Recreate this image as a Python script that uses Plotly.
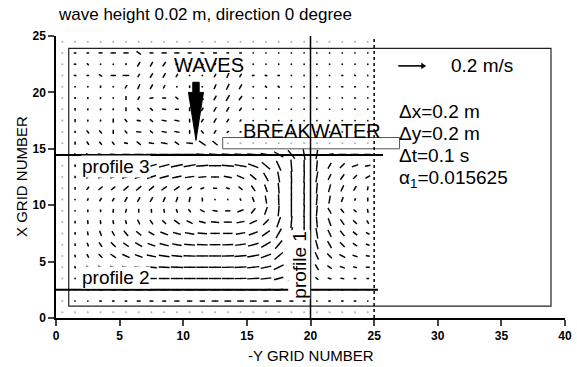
import numpy as np
import plotly.graph_objects as go

# ---------------- data ----------------
GRID_X = [0.5, 1.5, 2.5, 3.5, 4.5, 5.5, 6.5, 7.5, 8.5, 9.5, 10.5, 11.5, 12.5,
          13.5, 14.5, 15.5, 16.5, 17.5, 18.5, 19.5, 20.5, 21.5, 22.5, 23.5, 24.5]
# rows from top (24.5) to bottom (0.5)
GRID_Y = [24.5, 23.5, 22.5, 21.5, 20.5, 19.5, 18.5, 17.5, 16.5, 15.5, 14.5, 13.5,
          12.5, 11.5, 10.5, 9.5, 8.5, 7.5, 6.5, 5.5, 4.5, 3.5, 2.5, 1.5, 0.5]

# current speed in cm/s, one row per GRID_Y entry
SPEED = [
    [0]*25,
    [0,2,2,3,4,4,4,3,4,4,3,3,3,2,2,1,1,1,1,1,1,1,1,1,1],
    [0,2,2,1,1,1.5,4,4,4,2,2,2,2,2,1,1,1,1,1,1,1,1,1,1,1],
    [0,2,2,3,4,5,3,4,4,3,1,1,3,4,3,2,2,2,1,1,1,1,1.5,1.5,1],
    [0,1,1,2,1,3,4,4,3,1,2,1,4,5,4,1,2,2,1,1,1,1,1.5,1.5,1],
    [0,1.5,1.5,1.5,1,3,3,3,3,3,2,3,4,5,4,1,1.5,1,1,1,1,1,1,1.5,1],
    [0,2,1.5,1.5,1.5,3,3,3,3,3,3,3,4,4,3,1,1,1,1,1,1,1,1,1,1],
    [0,2.5,1.5,1.5,3,3,3,3,4,4,3,3,4,3,2,1,1,1,1,1,1,1,1,1,1],
    [0,1.5,3,3,3,3,4,3,4,4,3,3,3,2,1.5,1,1,1,1,1,1,1,1,1,1],
    [0,2.5,3,3,3,3,4,4,5,4,5,6,5,0,0,0,0,0,0,0,0,0,0,0,0],
    [0,2,3,4,5,6,7,8,8,9,9,9,9,9,9,9,8,8,8,8,7,6,6,6,5],
    [0,2,3,4,5,6,7,8,8,9,9,9,9,9,9,8,8,8,9,9,8,5,5,5,4],
    [0,2,3,4,5,6,6,7,7,7,7,6,6,6,6,6,7,8,9,9,8,5,5,4,4],
    [0,2,3,4,4,5,5,5,5,5,4,3,3,3,4,5,6,8,9,9,8,6,5,4,3],
    [0,1,2,3,3,4,4,4,4,4,4,3,1,1,2,4,6,8,9,9,8,6,4,2,3],
    [0,1,2,2,3,3,3,3,3,3,3,4,4,4,5,5,6,8,9,9,8,5,4,3,3],
    [0,2,3,3,3,3,4,4,4,5,5,5,6,6,6,6,6,8,9,9,8,6,5,4,3],
    [0,2,3,4,4,5,5,5,6,6,7,7,7,7,7,7,7,8,9,9,8,6,5,4,3],
    [0,2,3,4,5,5,6,6,7,7,8,8,8,8,8,8,8,8,9,8,7,6,5,4,3],
    [0,2,3,4,5,6,6,7,8,8,9,9,9,9,9,9,8,8,8,7,6,5,5,4,3],
    [0,2,3,4,5,6,7,8,8,9,9,9,9,9,9,9,8,8,7,6,5,4,4,3,3],
    [0,1,3,4,5,6,7,8,8,9,9,9,9,9,9,9,8,7,6,4,3,3,3,2,2],
    [0,1,2,3,4,5,6,6,7,7,7,7,7,7,7,7,7,6,5,3,2,2,2,2,2],
    [0,1,1,2,2,2,3,3,3,4,4,4,5,5,5,5,4,4,3,2,1,2,2,2,1],
    [0]*25,
]

# current direction in degrees (0 = +x, 90 = +y)
DIRECTION = [
    [0]*25,
    [0,0,0,0,0,0,-35,0,0,0,0,-10,0,0,0,0,0,0,0,0,0,0,0,0,0],
    [0,0,-45,0,-45,80,60,60,55,0,-45,-30,45,50,0,0,0,0,0,0,0,0,0,0,0],
    [0,0,0,-30,0,0,60,60,60,60,0,0,60,65,60,0,-10,0,0,0,0,0,0,-30,0],
    [0,0,0,90,0,60,65,60,60,0,90,0,65,65,60,0,-40,-40,0,0,0,0,0,0,0],
    [0,90,80,80,0,90,60,10,0,-40,-90,-50,60,60,55,0,0,0,0,0,0,0,0,-20,0],
    [0,90,80,80,70,90,-50,-40,-10,0,-90,60,60,60,55,0,0,0,0,0,0,0,0,0,0],
    [0,90,80,80,90,-50,-10,-40,-10,-10,-90,55,60,55,50,0,0,0,0,0,0,0,0,0,0],
    [0,90,-50,-50,90,-50,-5,-40,-10,-10,-90,-50,55,45,30,0,0,0,0,0,0,0,0,0,0],
    [0,90,-55,-50,-50,-10,-40,-10,-10,-35,-5,-35,-40,0,0,0,0,0,0,0,0,0,0,0,0],
    [0,-60,-20,-10,-5,0,0,0,0,0,0,-5,-5,-5,-5,-5,-10,-30,-50,-80,-100,190,180,180,180],
    [0,100,60,30,20,15,15,15,15,12,10,5,0,-5,-10,-20,-40,-65,-85,-90,-95,240,225,200,190],
    [0,90,45,25,20,18,18,18,15,12,8,5,0,-10,-25,-40,-60,-80,-88,-92,-100,245,235,225,210],
    [0,90,50,40,40,40,40,40,35,35,30,20,0,-20,-40,-55,-70,-85,-90,-92,-95,255,245,240,260],
    [0,90,70,60,60,60,60,60,65,70,80,90,90,0,-60,-70,-80,-88,-90,-92,-95,260,250,250,270],
    [0,90,90,90,85,75,90,95,100,110,130,150,170,180,200,230,250,265,270,268,265,300,310,320,280],
    [0,90,95,95,100,105,115,125,135,145,155,165,175,180,190,205,225,250,265,270,275,290,305,315,300],
    [0,90,100,110,120,130,140,150,160,165,170,175,180,180,190,200,215,240,260,270,280,295,310,320,330],
    [0,95,110,125,135,145,150,160,165,170,175,178,180,182,188,195,210,230,255,270,285,300,315,325,340],
    [0,100,120,135,145,155,160,168,172,175,178,180,180,182,185,190,200,220,245,270,295,315,330,340,350],
    [0,110,135,150,160,168,172,175,177,178,180,180,180,181,183,186,192,205,230,260,300,325,340,350,0],
    [0,120,150,165,172,176,178,180,180,180,180,180,180,180,181,183,187,195,215,240,320,340,350,0,0],
    [0,150,165,172,176,178,180,180,180,180,180,180,180,180,180,181,183,188,195,210,0,0,0,0,0],
    [0,180,180,180,180,180,180,180,180,180,180,180,180,180,180,180,180,180,180,180,180,180,180,180,180],
    [0]*25,
]

REF_SPEED = 20          # cm/s  (0.2 m/s reference arrow)
X_TICKS = [0, 5, 10, 15, 20, 25, 30, 35, 40]
Y_TICKS = [0, 5, 10, 15, 20, 25]

# ---------------- layout geometry ----------------
W, H = 577, 367
ML, MR, MT, MB = 56, 12, 36, 49
XR, YR = (0, 40), (0, 25)
PXX = (W - ML - MR) / (XR[1] - XR[0])
PXY = (H - MT - MB) / (YR[1] - YR[0])
PX_PER_CMS = 27 / REF_SPEED     # pixel length per cm/s

FONT = "Liberation Sans, Arial, Helvetica, sans-serif"

gx, gy = np.meshgrid(np.array(GRID_X), np.array(GRID_Y))
sp = np.array(SPEED, dtype=float)
th = np.deg2rad(np.array(DIRECTION, dtype=float))
dx = sp * np.cos(th) * PX_PER_CMS / PXX
dy = sp * np.sin(th) * PX_PER_CMS / PXY

seg_x, seg_y = [], []
for xx, yy, ddx, ddy, s in zip(gx.ravel(), gy.ravel(), dx.ravel(), dy.ravel(), sp.ravel()):
    if s <= 0:
        continue
    seg_x += [xx - ddx / 2, xx + ddx / 2, None]
    seg_y += [yy - ddy / 2, yy + ddy / 2, None]

fig = go.Figure()
fig.add_trace(go.Scatter(x=gx.ravel(), y=gy.ravel(), mode="markers",
                         marker=dict(size=2, color="#b0b0b0"),
                         hoverinfo="skip", showlegend=False))
fig.add_trace(go.Scatter(x=seg_x, y=seg_y, mode="lines",
                         line=dict(color="black", width=1.4),
                         hoverinfo="skip", showlegend=False))

# reference arrow 0.2 m/s (same scale as the field)
REF_X0, REF_Y = 26.9, 22.35
ref_tip = REF_X0 + REF_SPEED * PX_PER_CMS / PXX
fig.add_trace(go.Scatter(x=[REF_X0, ref_tip], y=[REF_Y, REF_Y], mode="lines",
                         line=dict(color="black", width=1.6),
                         hoverinfo="skip", showlegend=False))
fig.add_trace(go.Scatter(x=[ref_tip - 2.5 / PXX], y=[REF_Y], mode="markers",
                         marker=dict(symbol="triangle-right", size=6, color="black"),
                         hoverinfo="skip", showlegend=False))

# domain box
fig.add_shape(type="rect", x0=1.0, x1=38.9, y0=1.05, y1=23.9,
              line=dict(color="#222", width=1.2))
# breakwater
fig.add_shape(type="rect", x0=13.1, x1=27.0, y0=15.0, y1=16.0,
              line=dict(color="#555", width=1))
# profile lines
fig.add_shape(type="line", x0=0, x1=25.7, y0=14.45, y1=14.45,
              line=dict(color="black", width=2))
fig.add_shape(type="line", x0=0, x1=25.3, y0=2.5, y1=2.5,
              line=dict(color="black", width=2))
fig.add_shape(type="line", x0=20, x1=20, y0=0, y1=25,
              line=dict(color="black", width=1.5))
fig.add_shape(type="line", x0=25, x1=25, y0=0, y1=25,
              line=dict(color="black", width=1.5, dash="dot"))

# big incoming-wave arrow
AX, AY_TOP, AY_BASE, AY_TIP = 11.0, 20.9, 20.0, 15.75
SHAFT_HW, HEAD_HW = 3.2 / PXX, 7.5 / PXX
path = (f"M {AX-SHAFT_HW},{AY_TOP} L {AX+SHAFT_HW},{AY_TOP} L {AX+SHAFT_HW},{AY_BASE} "
        f"L {AX+HEAD_HW},{AY_BASE} L {AX},{AY_TIP} L {AX-HEAD_HW},{AY_BASE} "
        f"L {AX-SHAFT_HW},{AY_BASE} Z")
fig.add_shape(type="path", path=path, fillcolor="black", line=dict(color="black", width=1))

BIG = dict(family=FONT, size=19, color="black")
LARGE = dict(family=FONT, size=20, color="black")
def txt(x, y, s, xanchor="left", angle=0, bg=None, font=BIG):
    fig.add_annotation(x=x, y=y, xref="x", yref="y", text=s, showarrow=False,
                       xanchor=xanchor, yanchor="middle", textangle=angle,
                       font=font, bgcolor=bg, borderpad=0)

txt(31.0, 22.35, "0.2 m/s")
txt(26.9, 18.35, "Δx=0.2 m")
txt(26.9, 16.35, "Δy=0.2 m")
txt(26.9, 14.4, "Δt=0.1 s")
txt(26.9, 12.35, "α<sub>1</sub>=0.015625")
txt(12.0, 22.45, "WAVES", xanchor="center", font=LARGE)
txt(20.1, 16.6, "BREAKWATER", xanchor="center", font=LARGE)
txt(2.0, 13.4, "profile 3", bg="white")
txt(2.0, 3.55, "profile 2", bg="white")
txt(19.15, 4.7, "profile 1", xanchor="center", angle=-90, bg="white")

# axis titles and figure title
fig.add_annotation(x=0.5, y=-(355 - (H - MB)) / (H - MT - MB), xref="paper", yref="paper",
                   text="-Y GRID NUMBER", showarrow=False, yanchor="middle",
                   font=dict(family=FONT, size=15, color="black"))
fig.add_annotation(x=-(ML - 21) / (W - ML - MR), y=0.5, xref="paper", yref="paper",
                   text="X GRID NUMBER", showarrow=False, textangle=-90, xanchor="center",
                   font=dict(family=FONT, size=15, color="black"))
fig.add_annotation(x=0, y=1 + (MT - 14) / (H - MT - MB), xref="paper", yref="paper",
                   text="wave height 0.02 m, direction 0 degree", showarrow=False,
                   xanchor="left", yanchor="middle",
                   font=dict(family=FONT, size=17, color="black"))

tickfont = dict(family=FONT, size=12, color="black", weight="bold")
fig.update_xaxes(range=list(XR), tickvals=X_TICKS, ticks="outside", ticklen=6, tickwidth=1.5,
                 showline=True, linecolor="black", linewidth=1.5, showgrid=False,
                 zeroline=False, tickfont=tickfont, fixedrange=True, automargin=False)
fig.update_yaxes(range=list(YR), tickvals=Y_TICKS, ticks="outside", ticklen=6, tickwidth=1.5,
                 showline=True, linecolor="black", linewidth=1.5, showgrid=False,
                 zeroline=False, tickfont=tickfont, fixedrange=True, automargin=False)
fig.update_layout(width=W, height=H, margin=dict(l=ML, r=MR, t=MT, b=MB, autoexpand=False),
                  paper_bgcolor="white", plot_bgcolor="white", showlegend=False)

fig.write_html("out.html")
